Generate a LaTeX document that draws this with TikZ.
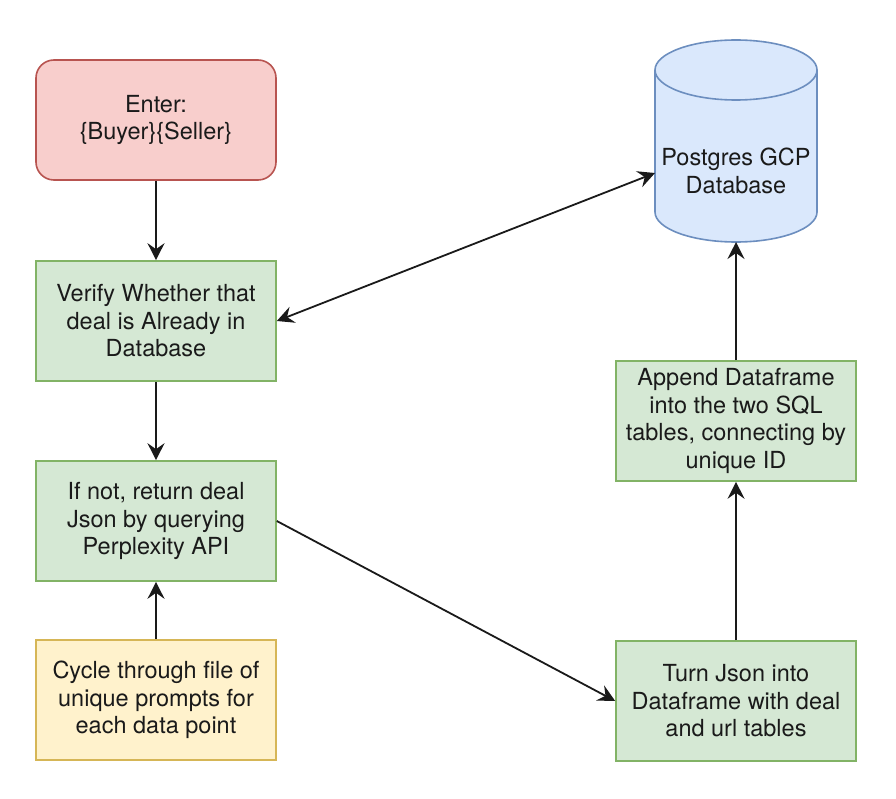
\documentclass[tikz,border=0pt]{standalone}
\usepackage{fontspec}
\setmainfont{TeX Gyre Heros}
\usetikzlibrary{arrows.meta}
\definecolor{redfill}{HTML}{F8CECC}
\definecolor{redline}{HTML}{B85450}
\definecolor{greenfill}{HTML}{D5E8D4}
\definecolor{greenline}{HTML}{82B366}
\definecolor{yellowfill}{HTML}{FFF2CC}
\definecolor{yellowline}{HTML}{D6B656}
\definecolor{bluefill}{HTML}{DAE8FC}
\definecolor{blueline}{HTML}{6C8EBF}
\definecolor{ink}{HTML}{1A1A1A}
\tikzset{
  box/.style={rectangle, minimum width=240pt, minimum height=120pt, align=center,
    line width=1.6pt, text=ink, inner sep=0pt,
    font=\fontsize{23.5}{27.5}\selectfont},
  greenbox/.style={box, fill=greenfill, draw=greenline},
  redbox/.style={box, fill=redfill, draw=redline, rounded corners=18pt},
  yellowbox/.style={box, fill=yellowfill, draw=yellowline},
  conn/.style={line width=1.8pt, draw=ink, -{Stealth[length=17pt, width=17pt, inset=6pt]}},
  dconn/.style={conn, {Stealth[length=17pt, width=17pt, inset=6pt]}-{Stealth[length=17pt, width=17pt, inset=6pt]}}
}
\begin{document}
\begin{tikzpicture}[x=1pt, y=-1pt]
\useasboundingbox (0,0) rectangle (896,799);
\fill[white] (0,0) rectangle (896,799);

% cylinder
\draw[line width=1.6pt, draw=blueline, fill=bluefill]
  (655,70) -- (655,212) arc[start angle=180, end angle=360, x radius=81, y radius=-30]
  -- (817,70) arc[start angle=0, end angle=180, x radius=81, y radius=-30] -- cycle;
\draw[line width=1.6pt, draw=blueline]
  (655,70) arc[start angle=180, end angle=360, x radius=81, y radius=-30];
\node[box, draw=none, minimum width=160pt, minimum height=60pt] (db) at (736,171) {Postgres GCP\\Database};
\coordinate (dbleft) at (655,173);
\coordinate (dbbottom) at (736,242);

\node[redbox] (enter) at (156,120) {Enter:\\\{Buyer\}\{Seller\}};
\node[greenbox] (verify) at (156,321) {Verify Whether that\\deal is Already in\\Database};
\node[greenbox] (ifnot) at (156,521) {If not, return deal\\Json by querying\\Perplexity API};
\node[yellowbox] (cycle) at (156,700) {Cycle through file of\\unique prompts for\\each data point};
\node[greenbox] (append) at (736,421) {Append Dataframe\\into the two SQL\\tables, connecting by\\unique ID};
\node[greenbox] (turn) at (736,701) {Turn Json into\\Dataframe with deal\\and url tables};

\draw[conn] (enter) -- (verify);
\draw[conn] (verify) -- (ifnot);
\draw[conn] (cycle) -- (ifnot);
\draw[dconn] (verify.east) -- (dbleft);
\draw[conn] (ifnot.east) -- (turn.west);
\draw[conn] (turn) -- (append);
\draw[conn] (append) -- (dbbottom);
\end{tikzpicture}
\end{document}
